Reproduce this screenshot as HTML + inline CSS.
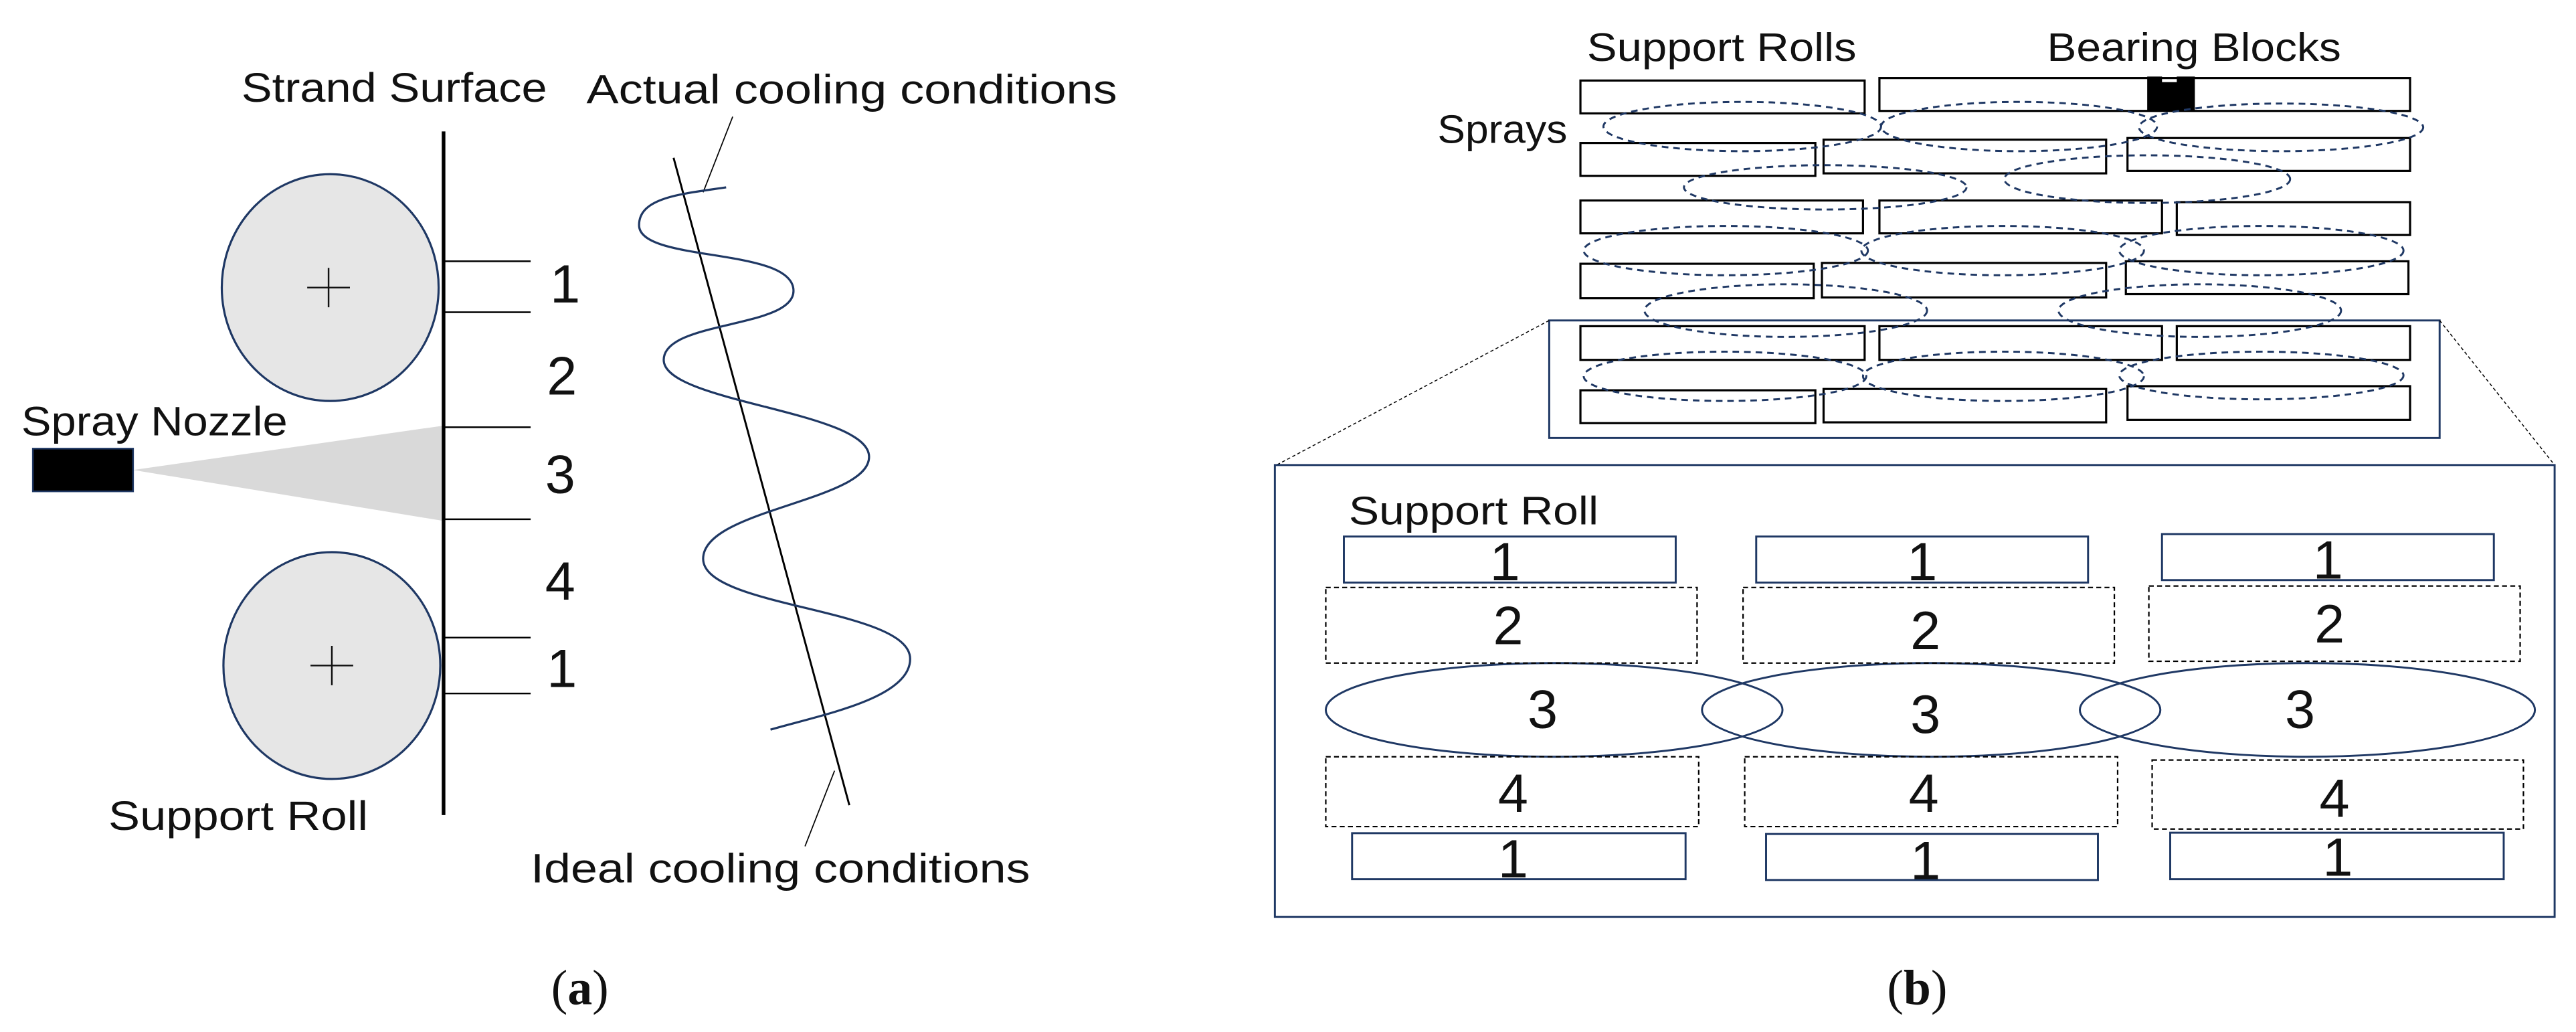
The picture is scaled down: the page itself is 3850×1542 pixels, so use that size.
<!DOCTYPE html>
<html><head><meta charset="utf-8"><style>
html,body{margin:0;padding:0;background:#fff;}
svg{display:block;}
text{font-family:"Liberation Sans",sans-serif;fill:#111;}
.s{font-family:"Liberation Serif",serif;}
</style></head><body>
<svg width="3850" height="1542" viewBox="0 0 1568 628" preserveAspectRatio="none" xmlns="http://www.w3.org/2000/svg">
<!-- Part a -->
<g>
<text x="147" y="62" font-size="25" textLength="186" lengthAdjust="spacingAndGlyphs">Strand Surface</text>
<text x="357" y="63" font-size="25" textLength="323" lengthAdjust="spacingAndGlyphs">Actual cooling conditions</text>
<text x="13" y="265" font-size="25" textLength="162" lengthAdjust="spacingAndGlyphs">Spray Nozzle</text>
<text x="66" y="505" font-size="25" textLength="158" lengthAdjust="spacingAndGlyphs">Support Roll</text>
<text x="323" y="537" font-size="25" textLength="304" lengthAdjust="spacingAndGlyphs">Ideal cooling conditions</text>

<ellipse cx="201" cy="175" rx="66" ry="69" fill="#e6e6e6" stroke="#1f3864" stroke-width="1.3"/>
<ellipse cx="202" cy="405" rx="66" ry="69" fill="#e6e6e6" stroke="#1f3864" stroke-width="1.3"/>
<path d="M200 163v24M187 175h26M202 393v24M189 405h26" stroke="#111" stroke-width="1"/>

<polygon points="81,286 270,259 270,317" fill="#d9d9d9"/>
<rect x="20" y="273" width="61" height="26" fill="#000" stroke="#1f3864" stroke-width="1"/>

<line x1="270" y1="80" x2="270" y2="496" stroke="#000" stroke-width="2.2"/>
<g stroke="#000" stroke-width="1">
<line x1="270" y1="159" x2="323" y2="159"/>
<line x1="270" y1="190" x2="323" y2="190"/>
<line x1="270" y1="260" x2="323" y2="260"/>
<line x1="270" y1="316" x2="323" y2="316"/>
<line x1="270" y1="388" x2="323" y2="388"/>
<line x1="270" y1="422" x2="323" y2="422"/>
</g>
<g font-size="33" text-anchor="middle">
<text x="344" y="184">1</text>
<text x="342" y="240">2</text>
<text x="341" y="300">3</text>
<text x="341" y="365">4</text>
<text x="342" y="418">1</text>
</g>

<line x1="410" y1="96" x2="517" y2="490" stroke="#000" stroke-width="1.2"/>
<line x1="446" y1="71" x2="428" y2="117" stroke="#000" stroke-width="0.7"/>
<line x1="508" y1="469" x2="490" y2="515" stroke="#000" stroke-width="0.7"/>
<path d="M442,114 C415,118 389,120 389,137 C389,160 483,150 483,177 C483,200 404,195 404,219 C404,245 529,250 529,278 C529,305 428,310 428,340 C428,370 554,370 554,401 C554,425 500,435 469,444" fill="none" stroke="#1f3864" stroke-width="1.3"/>

<text class="s" x="353" y="611" font-size="30" text-anchor="middle">(<tspan font-weight="bold">a</tspan>)</text>
</g>

<!-- Part b -->
<g>
<text x="966" y="37" font-size="24" textLength="164" lengthAdjust="spacingAndGlyphs">Support Rolls</text>
<text x="1246" y="37" font-size="24" textLength="179" lengthAdjust="spacingAndGlyphs">Bearing Blocks</text>
<text x="875" y="87" font-size="24" textLength="79" lengthAdjust="spacingAndGlyphs">Sprays</text>

<g fill="#fff" stroke="#000" stroke-width="1.3">
<rect x="962" y="49" width="173" height="20"/>
<rect x="1144" y="47.5" width="323" height="20"/>
<rect x="962" y="87" width="143" height="20"/>
<rect x="1110" y="85" width="172" height="20.5"/>
<rect x="1295" y="84" width="172" height="20"/>
<rect x="962" y="122" width="172" height="20"/>
<rect x="1144" y="122" width="172" height="20"/>
<rect x="1325" y="123" width="142" height="20"/>
<rect x="962" y="160.5" width="142" height="21"/>
<rect x="1109" y="160" width="173" height="21"/>
<rect x="1294" y="159" width="172" height="20"/>
<rect x="962" y="198.5" width="173" height="20.5"/>
<rect x="1144" y="198.5" width="172" height="20.5"/>
<rect x="1325" y="198.5" width="142" height="20.5"/>
<rect x="962" y="237.5" width="143" height="20"/>
<rect x="1110" y="236.7" width="172" height="20.3"/>
<rect x="1295" y="235" width="172" height="20.5"/>
</g>
<path d="M1307,46.6 H1316 V50 H1325 V46.6 H1336 V67.4 H1307 Z" fill="#000"/>

<g fill="none" stroke="#1f3864" stroke-width="1.2" stroke-dasharray="4,3">
<ellipse cx="1060.5" cy="77" rx="84.5" ry="15"/>
<ellipse cx="1229" cy="77" rx="84" ry="15"/>
<ellipse cx="1388.5" cy="77.5" rx="86.5" ry="14.5"/>
<ellipse cx="1111" cy="114" rx="86" ry="13.5"/>
<ellipse cx="1307" cy="109" rx="87" ry="14.5"/>
<ellipse cx="1050.5" cy="152.5" rx="86.5" ry="15"/>
<ellipse cx="1219" cy="152.5" rx="86" ry="15"/>
<ellipse cx="1376.5" cy="152.5" rx="86.5" ry="15"/>
<ellipse cx="1087" cy="189" rx="86" ry="16"/>
<ellipse cx="1339" cy="189" rx="86" ry="16"/>
<ellipse cx="1050" cy="229" rx="86" ry="15"/>
<ellipse cx="1219.5" cy="229" rx="85.5" ry="15"/>
<ellipse cx="1376.5" cy="228.5" rx="86.5" ry="14.5"/>
</g>

<rect x="943" y="195" width="542" height="71.5" fill="none" stroke="#1f3864" stroke-width="1.2"/>
<g stroke="#000" stroke-width="0.6" stroke-dasharray="2,1.5">
<line x1="943" y1="195" x2="777" y2="283"/>
<line x1="1485" y1="195" x2="1555" y2="283"/>
</g>
<rect x="776" y="283" width="779" height="275" fill="none" stroke="#1f3864" stroke-width="1.2"/>

<text x="821" y="319" font-size="24" textLength="152" lengthAdjust="spacingAndGlyphs">Support Roll</text>

<g fill="none" stroke="#1f3864" stroke-width="1.2">
<rect x="818" y="326.5" width="202" height="28"/>
<rect x="1069" y="326.5" width="202" height="28"/>
<rect x="1316" y="325" width="202" height="28"/>
<rect x="823" y="507" width="203" height="28"/>
<rect x="1075" y="507.5" width="202" height="28"/>
<rect x="1321" y="506.7" width="203" height="28.3"/>
<ellipse cx="946" cy="432" rx="139" ry="28.5"/>
<ellipse cx="1175.5" cy="432" rx="139.5" ry="28.5"/>
<ellipse cx="1404.5" cy="432" rx="138.5" ry="28.5"/>
</g>
<g fill="none" stroke="#000" stroke-width="0.9" stroke-dasharray="3,2">
<rect x="807" y="357.5" width="226" height="46"/>
<rect x="1061" y="357.5" width="226" height="46"/>
<rect x="1308" y="356.6" width="226" height="45.8"/>
<rect x="807" y="460.5" width="227" height="42.5"/>
<rect x="1062" y="460.5" width="227" height="42.5"/>
<rect x="1310" y="462.5" width="226" height="42"/>
</g>
<g font-size="33" text-anchor="middle">
<text x="916" y="353">1</text>
<text x="1170" y="353">1</text>
<text x="1417" y="352">1</text>
<text x="918" y="392">2</text>
<text x="1172" y="395">2</text>
<text x="1418" y="391">2</text>
<text x="939" y="443">3</text>
<text x="1172" y="446">3</text>
<text x="1400" y="443">3</text>
<text x="921" y="494">4</text>
<text x="1171" y="494">4</text>
<text x="1421" y="497">4</text>
<text x="921" y="534">1</text>
<text x="1172" y="535">1</text>
<text x="1423" y="533">1</text>
</g>

<text class="s" x="1167" y="611" font-size="30" text-anchor="middle">(<tspan font-weight="bold">b</tspan>)</text>
</g>
</svg>
</body></html>
